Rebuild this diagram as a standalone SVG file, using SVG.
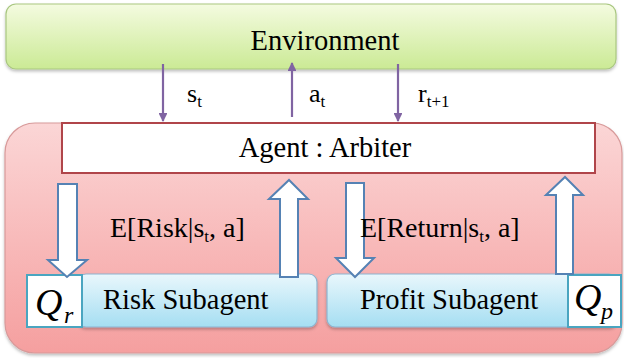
<svg xmlns="http://www.w3.org/2000/svg" width="624" height="358" viewBox="0 0 624 358">
<defs>
<linearGradient id="gEnv" x1="0" y1="0" x2="0" y2="1"><stop offset="0" stop-color="#f4fbe0"/><stop offset="1" stop-color="#cbea95"/></linearGradient>
<linearGradient id="gAgent" x1="0" y1="0" x2="0" y2="1"><stop offset="0" stop-color="#fbd6d6"/><stop offset="1" stop-color="#f59f9f"/></linearGradient>
<linearGradient id="gSub" x1="0" y1="0" x2="0" y2="1"><stop offset="0" stop-color="#e9f7fc"/><stop offset="1" stop-color="#a5def2"/></linearGradient>
<marker id="mP" viewBox="0 0 10 10" refX="9" refY="5" markerWidth="4" markerHeight="4" orient="auto"><path d="M0,0 L10,5 L0,10 Z" fill="#8064a2"/></marker>
<filter id="sh" x="-5%" y="-5%" width="110%" height="115%"><feDropShadow dx="0" dy="2" stdDeviation="1.5" flood-color="#000" flood-opacity="0.25"/></filter>
</defs>
<style>
text{font-family:"Liberation Serif","Times New Roman",serif;fill:#000}
.lbl{font-size:28.5px}
.el{font-size:28px}
.sl{font-size:26px}
.sub{font-size:17px}
.blk{fill:#fff;stroke:#5582b4;stroke-width:2;stroke-linejoin:miter}
.pl{stroke:#8064a2;stroke-width:2.2;fill:none}
.q{fill:#fff;stroke:#4aa5c0;stroke-width:2}
.qt{font-style:italic;font-size:38px}
.qs{font-style:italic;font-size:24px}
</style>
<g id="environment">
<rect x="6" y="4" width="610" height="65" rx="10" fill="url(#gEnv)" stroke="#a9c780" stroke-width="1.2" filter="url(#sh)"/>
<text x="325" y="50" class="lbl" text-anchor="middle">Environment</text>
</g>
<g id="agent">
<rect x="5" y="123" width="617" height="230" rx="30" fill="url(#gAgent)" stroke="#d89a9a" stroke-width="1.2" filter="url(#sh)"/>
</g>
<g id="arbiter">
<rect x="62" y="123" width="533" height="50" fill="#fff" stroke="#b0454a" stroke-width="2"/>
<text x="325" y="157" class="lbl" text-anchor="middle">Agent : Arbiter</text>
</g>
<g id="risk-subagent">
<rect x="78" y="274" width="239" height="53" rx="8" fill="url(#gSub)" stroke="#8eb4cf" stroke-width="1.2" filter="url(#sh)"/>
<text x="103" y="309" class="lbl">Risk Subagent</text>
</g>
<g id="profit-subagent">
<rect x="327" y="274" width="290" height="53" rx="8" fill="url(#gSub)" stroke="#8eb4cf" stroke-width="1.2" filter="url(#sh)"/>
<text x="360" y="309" class="lbl">Profit Subagent</text>
</g>
<g id="q-r">
<rect x="27" y="275" width="55" height="52" class="q"/>
<text x="35" y="315" class="qt">Q</text>
<text x="64" y="323" class="qs">r</text>
</g>
<g id="q-p">
<rect x="568" y="275" width="53" height="52" class="q"/>
<text x="574" y="310" class="qt">Q</text>
<text x="601" y="319" class="qs">p</text>
</g>
<g id="connectors">
<line x1="163" y1="64" x2="163" y2="121" class="pl" marker-end="url(#mP)"/>
<line x1="292" y1="117" x2="292" y2="63" class="pl" marker-end="url(#mP)"/>
<line x1="398" y1="64" x2="398" y2="121" class="pl" marker-end="url(#mP)"/>
<polygon class="blk" points="58,184 77,184 77,260 87,260 67,277 48,260 58,260"/>
<polygon class="blk" points="280,277 298,277 298,199 308,199 289,180 269,199 280,199"/>
<polygon class="blk" points="346,183 364,183 364,258 374,258 355,277 336,258 346,258"/>
<polygon class="blk" points="556,274 573,274 573,195 583,195 565,177 546,195 556,195"/>
</g>
<g id="labels">
<text x="187" y="102" class="sl">s<tspan class="sub" dy="5">t</tspan></text>
<text x="309" y="102" class="sl">a<tspan class="sub" dy="5">t</tspan></text>
<text x="418" y="102" class="sl">r<tspan class="sub" dy="5">t+1</tspan></text>
<text x="110" y="237" class="el">E[Risk|s<tspan class="sub" dy="5">t</tspan><tspan dy="-5">, a]</tspan></text>
<text x="360" y="237" class="el">E[Return|s<tspan class="sub" dy="5">t</tspan><tspan dy="-5">,  a]</tspan></text>
</g>
</svg>
